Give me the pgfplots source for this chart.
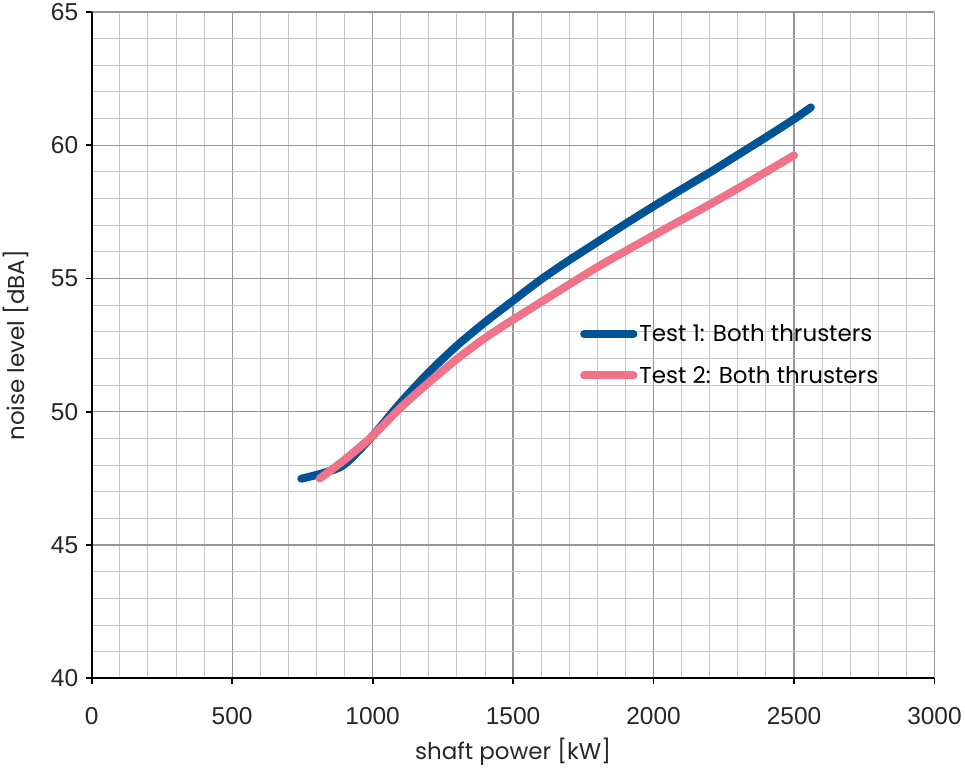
\documentclass[border=0pt]{standalone}
\usepackage{fontspec}
\setmainfont{Poppins}
\newfontfamily\arialf{Liberation Sans}
\usepackage{pgfplots}
\pgfplotsset{compat=1.18}
\definecolor{tblue}{RGB}{0,84,150}
\definecolor{tpink}{RGB}{240,115,138}
\definecolor{gmaj}{RGB}{150,150,150}
\definecolor{gmin}{RGB}{200,200,200}
\begin{document}
\begin{tikzpicture}
\begin{axis}[
  scale only axis,
  width=841bp, height=665bp,
  xmin=0, xmax=3000, ymin=40, ymax=65,
  xtick={0,500,...,3000}, ytick={40,45,...,65},
  minor x tick num=4, minor y tick num=4,
  grid=both,
  major grid style={gmaj, line width=1.3bp},
  minor grid style={gmin, line width=0.9bp},
  axis x line*=bottom, axis y line*=left,
  axis line style={black, line width=1.8bp, -},
  tick style={black, line width=1.8bp},
  major tick length=6bp, minor tick length=0pt,
  tick align=outside,
  /pgf/number format/assume math mode=true,
  /pgf/number format/1000 sep={},
  ticklabel style={font=\arialf\fontsize{24.5}{29}\selectfont, text=black!85},
  xticklabel style={yshift=-19bp},
  yticklabel style={xshift=-4bp},
  label style={font=\fontsize{23}{28}\selectfont, text=black!85},
  xlabel={shaft power [kW]}, ylabel={noise level [dBA]},
  xlabel style={yshift=-7bp},
  ylabel shift=15bp,
  legend style={draw=none, fill=none, at={(0.576,0.537)}, anchor=north west,
    font=\fontsize{23}{28}\selectfont, row sep=19bp},
  legend cell align=left,
  legend image code/.code={\draw[#1, line cap=round] (0bp,0bp) -- (39bp,0bp);
    \path (0bp,0bp) -- (49bp,0bp);},
]
\addplot[tblue, line width=8bp, line cap=round, smooth] coordinates {
(746,47.49) (829,47.72) (900,48.03) (1000,49.1) (1100,50.35) (1200,51.48) (1300,52.48) (1400,53.36) (1500,54.17) (1600,54.97) (1700,55.69) (1800,56.37) (1900,57.05) (2000,57.71) (2100,58.35) (2200,58.98) (2300,59.64) (2400,60.3) (2500,60.98) (2560,61.42)};
\addlegendentry{Test 1: Both thrusters}
\addplot[tpink, line width=8bp, line cap=round, smooth] coordinates {
(812,47.5) (900,48.2) (1000,49.1) (1100,50.16) (1200,51.1) (1300,51.98) (1400,52.77) (1500,53.46) (1600,54.12) (1700,54.78) (1800,55.43) (1900,56.03) (2000,56.62) (2100,57.2) (2200,57.78) (2300,58.38) (2400,59.0) (2500,59.62)};
\addlegendentry{Test 2: Both thrusters}
\end{axis}
\end{tikzpicture}
\end{document}
